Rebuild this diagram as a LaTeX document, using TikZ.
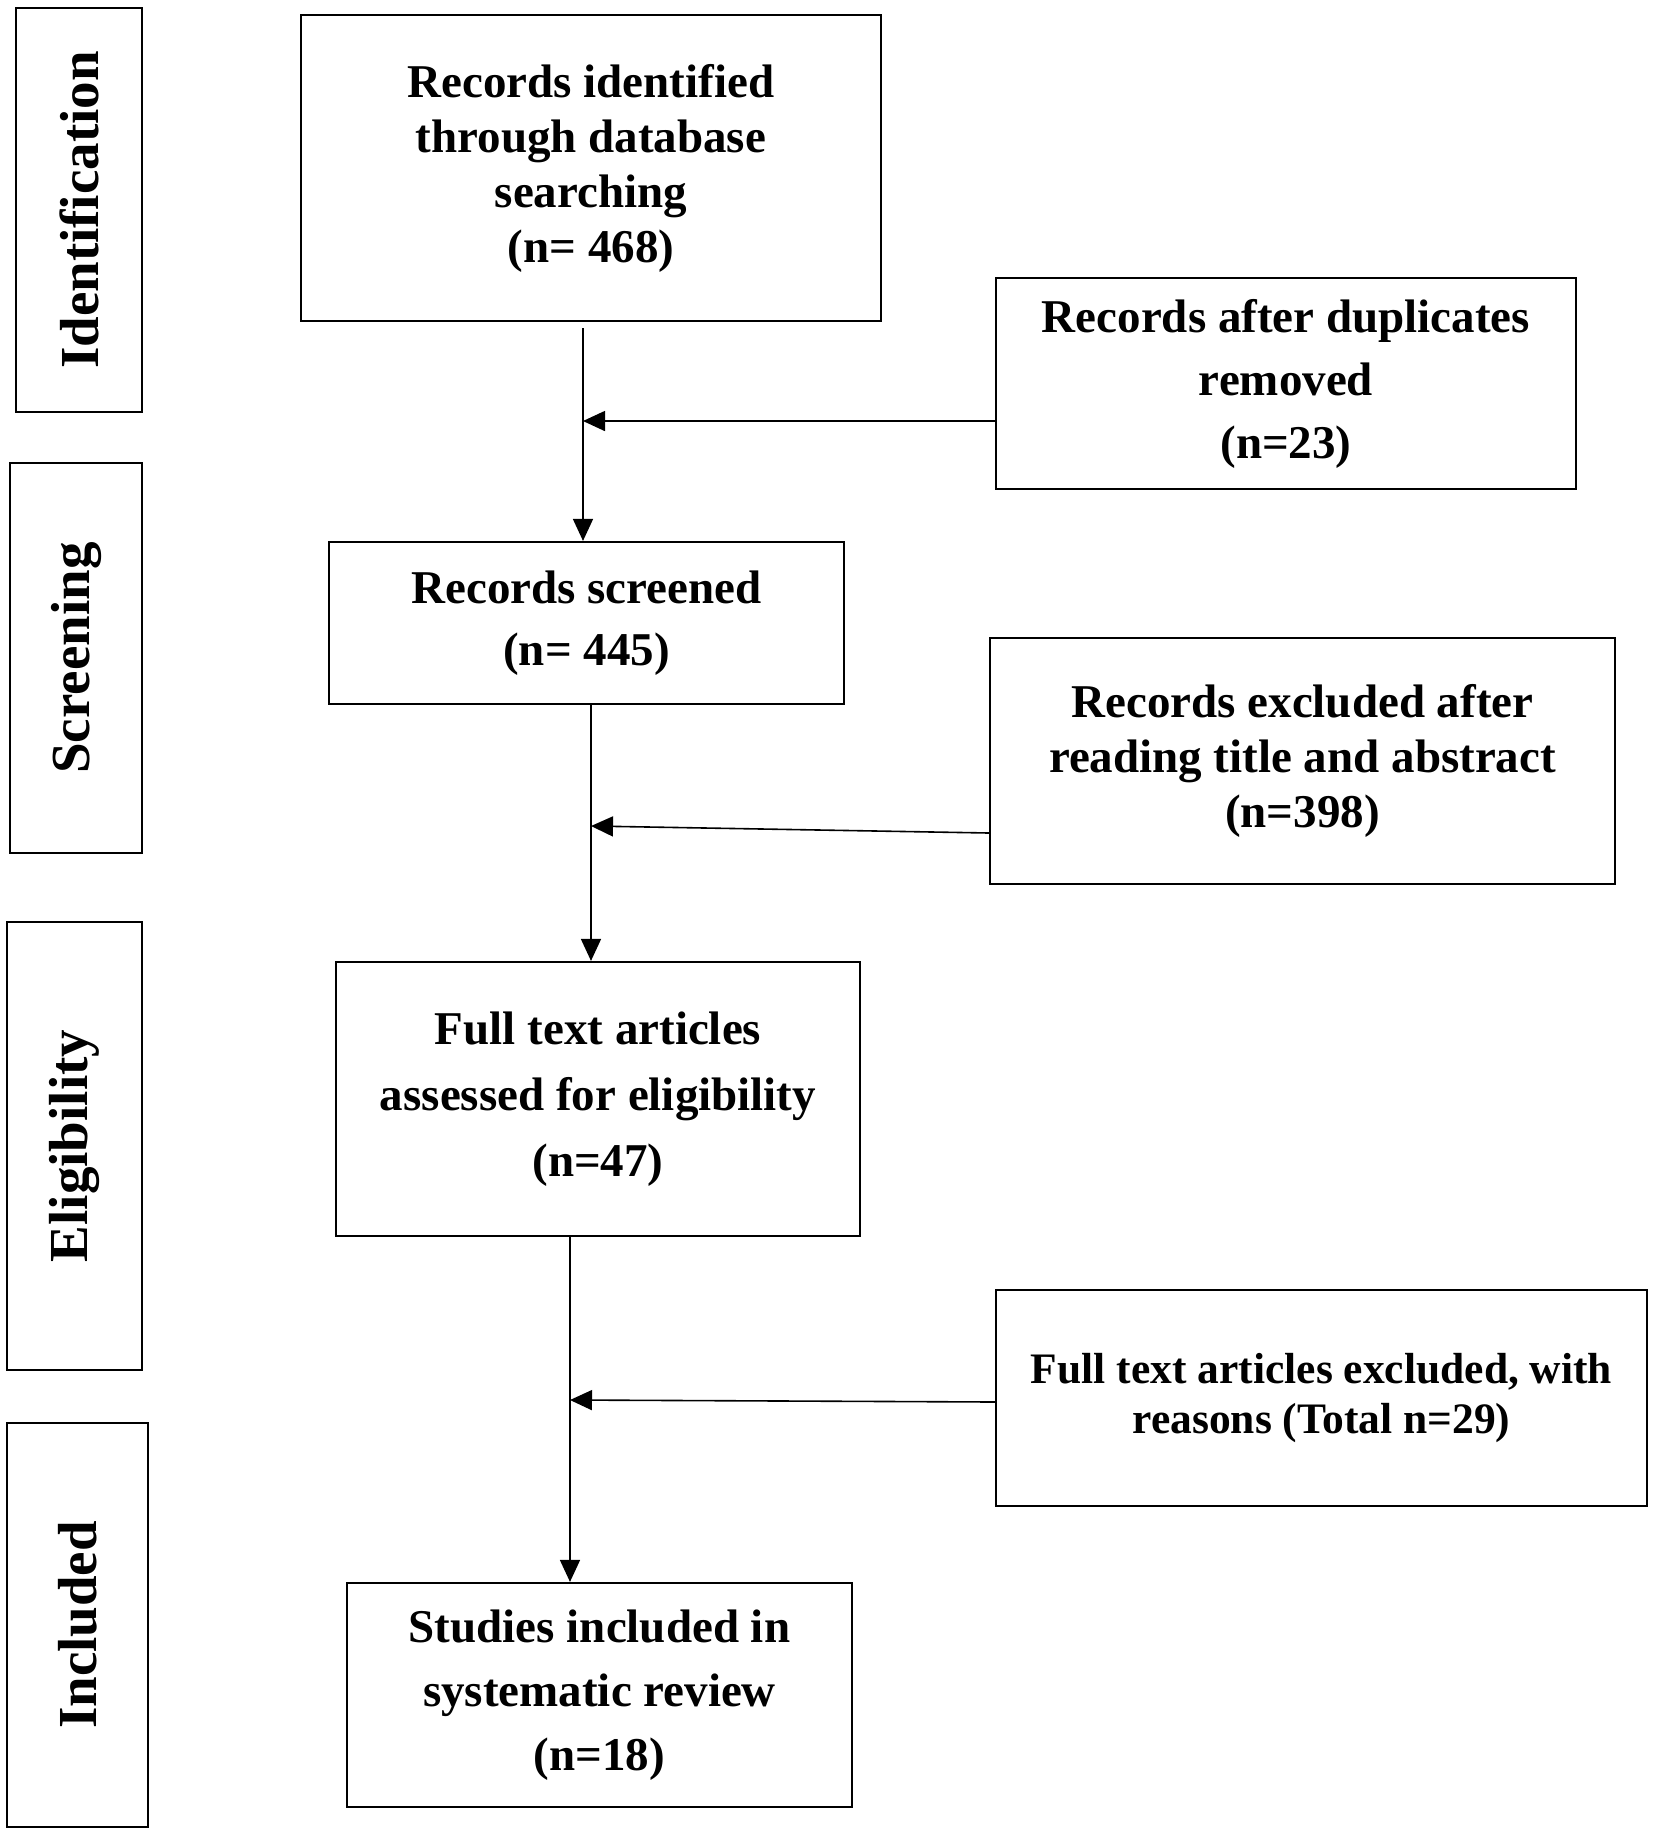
\documentclass[tikz,border=0pt]{standalone}
\usepackage{fontspec}
\setmainfont{Liberation Serif}
\usetikzlibrary{arrows.meta}
\tikzset{
  box/.style={draw, line width=1.1pt, inner sep=0pt, align=center, font=\bfseries\fontsize{23.5}{27.5}\selectfont},
  side/.style={draw, line width=1.1pt, inner sep=0pt, rotate=90, font=\bfseries\fontsize{27.5}{30}\selectfont},
  arr/.style={line width=0.8pt, -{Triangle[length=11pt,width=10pt]}},
  lin/.style={line width=0.8pt}
}
\begin{document}
\begin{tikzpicture}[x=0.5pt,y=-0.5pt]
\fill[white] (0,0) rectangle (1654,1833);
\useasboundingbox (0,0) rectangle (1654,1833);
% phase labels
\node[side, minimum width=202pt, minimum height=63pt] (id) at (79,210) {Identification};
\node[side, minimum width=195pt, minimum height=66pt] (sc) at (76,658) {Screening};
\node[side, minimum width=224pt, minimum height=67.5pt] (el) at (74.5,1146) {Eligibility};
\node[side, minimum width=202pt, minimum height=70.5pt] (in) at (77.5,1625) {Included};
% main boxes
\node[box, minimum width=290pt, minimum height=153pt] (b1) at (591,168) {Records identified\\through database\\searching\\(n= 468)};
\node[box, minimum width=290pt, minimum height=105.5pt, font=\bfseries\fontsize{23.5}{31.5}\selectfont] (d1) at (1286,383.5) {Records after duplicates\\removed\\(n=23)};
\node[box, minimum width=257.5pt, minimum height=81pt, font=\bfseries\fontsize{23.5}{31}\selectfont] (b2) at (586.5,623) {Records screened\\(n= 445)};
\node[box, minimum width=312.5pt, minimum height=123pt] (e1) at (1302.5,761) {Records excluded after\\reading title and abstract\\(n=398)};
\node[box, minimum width=262pt, minimum height=137pt, font=\bfseries\fontsize{23.5}{33}\selectfont] (b3) at (598,1099) {Full text articles\\assessed for eligibility\\(n=47)};
\node[box, minimum width=325.5pt, minimum height=108pt, font=\bfseries\fontsize{21.75}{25}\selectfont] (e2) at (1321.5,1398) {Full text articles excluded, with\\reasons (Total n=29)};
\node[box, minimum width=252.5pt, minimum height=112pt, font=\bfseries\fontsize{23.5}{32}\selectfont] (b4) at (599.5,1695) {Studies included in\\systematic review\\(n=18)};
% junctions
\coordinate (j1) at (583,421);
\coordinate (j2) at (591,826);
\coordinate (j3) at (570,1400);
\coordinate (h2) at (0,833);
\coordinate (h3) at (0,1402);
% connectors
\draw[arr] (b1.south -| j1) ++(0,6) -- (j1 |- b2.north);
\draw[arr] (d1.west |- j1) -- (j1);
\draw[arr] (j2 |- b2.south) -- (j2 |- b3.north);
\draw[arr] (e1.west |- h2) -- (j2);
\draw[arr] (j3 |- b3.south) -- (j3 |- b4.north);
\draw[arr] (e2.west |- h3) -- (j3);
\end{tikzpicture}
\end{document}
